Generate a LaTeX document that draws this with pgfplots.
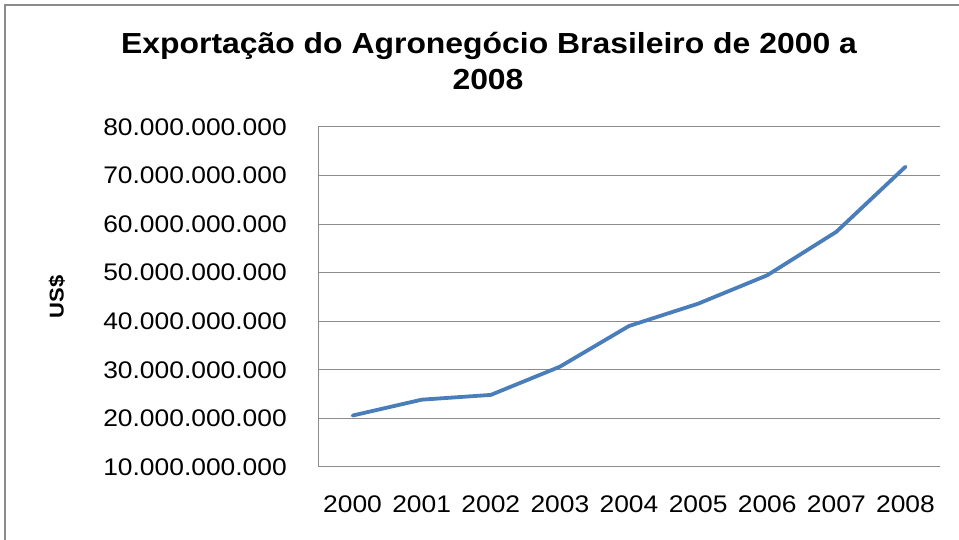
\documentclass[border=0pt]{standalone}
\usepackage{fontspec}
\setmainfont{Liberation Sans}[FakeStretch=1.1]
\usepackage{pgfplots}
\pgfplotsset{compat=1.18}
\definecolor{excelblue}{HTML}{4A7EBB}
\definecolor{gridgray}{HTML}{8C8C8C}
\begin{document}
\begin{tikzpicture}[x=1bp,y=1bp]
\useasboundingbox (0,0) rectangle (959,540);
\draw[gridgray, line width=1.5bp] (5,-20) -- (5,535) -- (980,535);
\node[anchor=base, font=\fontsize{29bp}{33bp}\selectfont\bfseries] at (489,486.5) {Exportação do Agronegócio Brasileiro de 2000 a};
\node[anchor=base, font=\fontsize{29bp}{33bp}\selectfont\bfseries] at (488,450) {2008};
\node[rotate=90, font=\fontsize{20bp}{24bp}\selectfont\bfseries] at (57,243) {US\$};
\begin{axis}[
  at={(318bp,73bp)}, anchor=south west,
  scale only axis, width=622bp, height=340bp,
  xmin=-0.5, xmax=8.5,
  ymin=1e10, ymax=8e10,
  scaled y ticks=false,
  xtick={0,1,2,3,4,5,6,7,8},
  xticklabels={2000,2001,2002,2003,2004,2005,2006,2007,2008},
  ytick={1e10,2e10,3e10,4e10,5e10,6e10,7e10,8e10},
  yticklabels={10.000.000.000,20.000.000.000,30.000.000.000,40.000.000.000,50.000.000.000,60.000.000.000,70.000.000.000,80.000.000.000},
  /pgf/number format/assume math mode=true,
  major tick length=0pt,
  tick style={draw=none},
  axis lines=left,
  axis line style={-, draw=gridgray, line width=1bp},
  ymajorgrids=true,
  major grid style={draw=gridgray, line width=1bp},
  tick label style={font=\fontsize{24bp}{28bp}\selectfont},
  yticklabel style={anchor=east, inner sep=0pt, xshift=-31bp},
  xticklabel style={anchor=base, inner sep=0pt, yshift=-46bp},
  clip=false,
]
\addplot[excelblue, line width=3.8bp, line join=round, line cap=round] coordinates {
  (0,20590000000) (1,23860000000) (2,24840000000) (3,30650000000)
  (4,39030000000) (5,43620000000) (6,49470000000) (7,58420000000) (8,71810000000)
};
\end{axis}
\end{tikzpicture}
\end{document}
